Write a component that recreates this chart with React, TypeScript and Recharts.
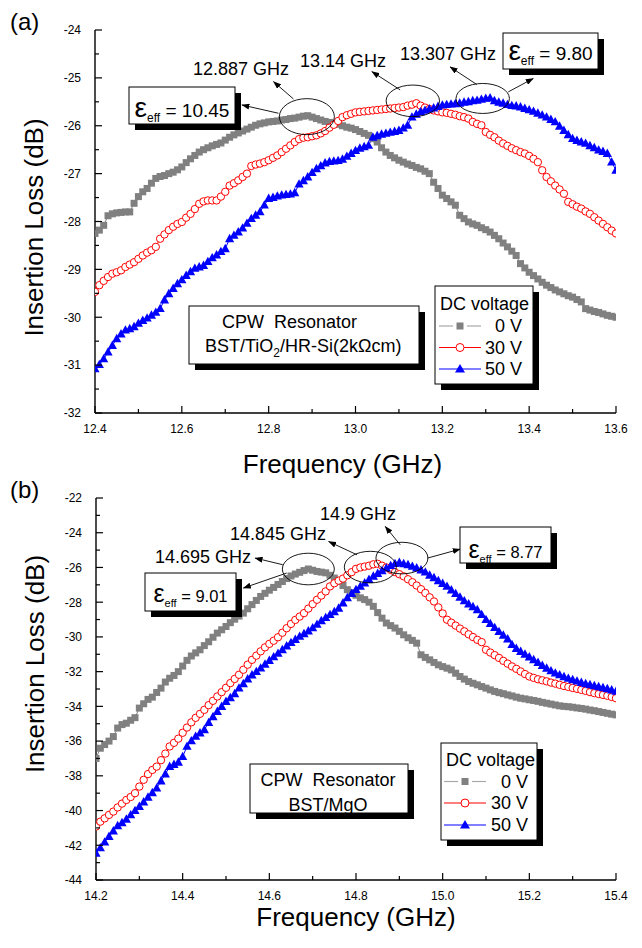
import React from 'react';
import { LineChart, Line, XAxis, YAxis, ReferenceDot } from 'recharts';

const FONT = '"Liberation Sans", Arial, Helvetica, sans-serif';
const GRAY = '#808080';
const RED = '#ff0000';
const BLUE = '#0000ff';

// ---- panel (a): BST/TiO2/HR-Si(2kOhm cm) ----
const freqA = [
  12.40, 12.41, 12.42, 12.43, 12.44, 12.45, 12.46, 12.47, 12.48, 12.49,
  12.50, 12.51, 12.52, 12.53, 12.54, 12.55, 12.56, 12.57, 12.58, 12.59,
  12.60, 12.61, 12.62, 12.63, 12.64, 12.65, 12.66, 12.67, 12.68, 12.69,
  12.70, 12.71, 12.72, 12.73, 12.74, 12.75, 12.76, 12.77, 12.78, 12.79,
  12.80, 12.81, 12.82, 12.83, 12.84, 12.85, 12.86, 12.87, 12.88, 12.89,
  12.90, 12.91, 12.92, 12.93, 12.94, 12.95, 12.96, 12.97, 12.98, 12.99,
  13.00, 13.01, 13.02, 13.03, 13.04, 13.05, 13.06, 13.07, 13.08, 13.09,
  13.10, 13.11, 13.12, 13.13, 13.14, 13.15, 13.16, 13.17, 13.18, 13.19,
  13.20, 13.21, 13.22, 13.23, 13.24, 13.25, 13.26, 13.27, 13.28, 13.29,
  13.30, 13.31, 13.32, 13.33, 13.34, 13.35, 13.36, 13.37, 13.38, 13.39,
  13.40, 13.41, 13.42, 13.43, 13.44, 13.45, 13.46, 13.47, 13.48, 13.49,
  13.50, 13.51, 13.52, 13.53, 13.54, 13.55, 13.56, 13.57, 13.58, 13.59,
  13.60,
];
const lossA0 = [
  -28.25, -28.18, -28.08, -27.88, -27.84, -27.82, -27.81, -27.80, -27.80, -27.62,
  -27.48, -27.38, -27.31, -27.20, -27.10, -27.06, -27.04, -27.00, -26.97, -26.92,
  -26.86, -26.77, -26.69, -26.62, -26.55, -26.50, -26.46, -26.42, -26.39, -26.36,
  -26.30, -26.24, -26.19, -26.15, -26.11, -26.07, -26.03, -25.99, -25.96, -25.94,
  -25.92, -25.91, -25.90, -25.88, -25.87, -25.85, -25.84, -25.82, -25.80, -25.79,
  -25.82, -25.85, -25.88, -25.91, -25.93, -25.95, -25.97, -26.00, -26.03, -26.05,
  -26.08, -26.12, -26.16, -26.20, -26.27, -26.34, -26.46, -26.55, -26.62, -26.67,
  -26.72, -26.76, -26.80, -26.83, -26.87, -26.90, -26.95, -27.00, -27.18, -27.31,
  -27.45, -27.52, -27.59, -27.66, -27.87, -27.94, -28.01, -28.05, -28.08, -28.13,
  -28.17, -28.22, -28.29, -28.36, -28.45, -28.53, -28.62, -28.71, -28.88, -28.97,
  -29.06, -29.13, -29.20, -29.27, -29.33, -29.38, -29.43, -29.47, -29.51, -29.55,
  -29.58, -29.63, -29.68, -29.82, -29.85, -29.88, -29.90, -29.93, -29.96, -29.98,
  -30.00,
];
const lossA30 = [
  -29.47, -29.33, -29.24, -29.16, -29.09, -29.06, -29.02, -28.95, -28.90, -28.85,
  -28.78, -28.71, -28.65, -28.60, -28.53, -28.36, -28.27, -28.18, -28.11, -28.05,
  -28.01, -27.92, -27.84, -27.74, -27.63, -27.58, -27.56, -27.56, -27.56, -27.48,
  -27.38, -27.25, -27.20, -27.14, -27.07, -27.00, -26.84, -26.81, -26.79, -26.76,
  -26.72, -26.67, -26.62, -26.55, -26.48, -26.41, -26.34, -26.28, -26.25, -26.24,
  -26.22, -26.20, -26.16, -26.11, -26.04, -25.98, -25.90, -25.82, -25.78, -25.75,
  -25.72, -25.71, -25.70, -25.69, -25.68, -25.67, -25.66, -25.65, -25.64, -25.63,
  -25.62, -25.61, -25.58, -25.56, -25.53, -25.58, -25.62, -25.65, -25.68, -25.70,
  -25.72, -25.73, -25.75, -25.77, -25.80, -25.82, -25.85, -25.92, -25.96, -25.99,
  -26.13, -26.19, -26.24, -26.31, -26.37, -26.42, -26.47, -26.51, -26.55, -26.58,
  -26.63, -26.69, -26.76, -26.93, -27.07, -27.16, -27.25, -27.33, -27.42, -27.59,
  -27.64, -27.69, -27.73, -27.79, -27.84, -27.91, -27.98, -28.05, -28.12, -28.19,
  -28.25,
];
const lossA50 = [
  -31.08, -30.99, -30.87, -30.73, -30.59, -30.45, -30.35, -30.27, -30.24, -30.20,
  -30.13, -30.07, -30.02, -29.96, -29.90, -29.82, -29.64, -29.51, -29.40, -29.30,
  -29.22, -29.13, -29.05, -28.98, -28.95, -28.92, -28.84, -28.76, -28.70, -28.63,
  -28.57, -28.36, -28.29, -28.22, -28.14, -28.04, -27.94, -27.87, -27.80, -27.66,
  -27.52, -27.50, -27.47, -27.45, -27.44, -27.43, -27.40, -27.22, -27.15, -27.07,
  -26.98, -26.90, -26.84, -26.78, -26.75, -26.74, -26.73, -26.70, -26.64, -26.58,
  -26.52, -26.47, -26.44, -26.41, -26.24, -26.21, -26.18, -26.16, -26.14, -26.12,
  -26.10, -26.05, -25.99, -25.82, -25.76, -25.71, -25.68, -25.65, -25.63, -25.60,
  -25.57, -25.56, -25.55, -25.54, -25.53, -25.51, -25.50, -25.48, -25.47, -25.45,
  -25.43, -25.42, -25.48, -25.51, -25.53, -25.56, -25.58, -25.59, -25.61, -25.64,
  -25.67, -25.70, -25.74, -25.78, -25.82, -25.87, -25.92, -26.01, -26.10, -26.19,
  -26.27, -26.31, -26.34, -26.37, -26.42, -26.46, -26.51, -26.54, -26.58, -26.76,
  -26.93,
];

// ---- panel (b): BST/MgO ----
const freqB = [
  14.20, 14.21, 14.22, 14.23, 14.24, 14.25, 14.26, 14.27, 14.28, 14.29,
  14.30, 14.31, 14.32, 14.33, 14.34, 14.35, 14.36, 14.37, 14.38, 14.39,
  14.40, 14.41, 14.42, 14.43, 14.44, 14.45, 14.46, 14.47, 14.48, 14.49,
  14.50, 14.51, 14.52, 14.53, 14.54, 14.55, 14.56, 14.57, 14.58, 14.59,
  14.60, 14.61, 14.62, 14.63, 14.64, 14.65, 14.66, 14.67, 14.68, 14.69,
  14.70, 14.71, 14.72, 14.73, 14.74, 14.75, 14.76, 14.77, 14.78, 14.79,
  14.80, 14.81, 14.82, 14.83, 14.84, 14.85, 14.86, 14.87, 14.88, 14.89,
  14.90, 14.91, 14.92, 14.93, 14.94, 14.95, 14.96, 14.97, 14.98, 14.99,
  15.00, 15.01, 15.02, 15.03, 15.04, 15.05, 15.06, 15.07, 15.08, 15.09,
  15.10, 15.11, 15.12, 15.13, 15.14, 15.15, 15.16, 15.17, 15.18, 15.19,
  15.20, 15.21, 15.22, 15.23, 15.24, 15.25, 15.26, 15.27, 15.28, 15.29,
  15.30, 15.31, 15.32, 15.33, 15.34, 15.35, 15.36, 15.37, 15.38, 15.39,
  15.40,
];
const lossB0 = [
  -37.00, -36.41, -36.20, -36.00, -35.74, -35.25, -35.05, -34.97, -34.80, -34.65,
  -34.10, -33.85, -33.60, -33.47, -33.20, -32.95, -32.60, -32.38, -32.22, -32.00,
  -31.68, -31.35, -31.10, -30.92, -30.74, -30.50, -30.28, -30.02, -29.78, -29.59,
  -29.40, -29.18, -28.98, -28.80, -28.63, -28.38, -28.14, -27.90, -27.67, -27.49,
  -27.31, -27.15, -26.98, -26.81, -26.64, -26.49, -26.38, -26.28, -26.18, -26.09,
  -26.16, -26.23, -26.27, -26.31, -26.45, -26.61, -26.80, -27.04, -27.28, -27.45,
  -27.60, -27.75, -27.85, -28.00, -28.24, -28.60, -28.92, -29.20, -29.35, -29.49,
  -29.68, -29.88, -30.05, -30.20, -30.36, -31.03, -31.18, -31.32, -31.47, -31.61,
  -31.71, -31.80, -31.90, -32.09, -32.28, -32.43, -32.57, -32.67, -32.76, -32.86,
  -32.95, -33.05, -33.14, -33.21, -33.27, -33.34, -33.40, -33.47, -33.53, -33.57,
  -33.62, -33.66, -33.71, -33.77, -33.82, -33.87, -33.92, -33.97, -34.00, -34.02,
  -34.05, -34.09, -34.12, -34.16, -34.21, -34.25, -34.30, -34.35, -34.40, -34.45,
  -34.49,
];
const lossB30 = [
  -40.92, -40.64, -40.45, -40.25, -40.06, -39.82, -39.60, -39.39, -39.22, -39.00,
  -38.62, -38.23, -37.90, -37.66, -37.47, -37.10, -36.72, -36.31, -36.10, -35.86,
  -35.52, -35.22, -34.92, -34.66, -34.43, -34.20, -33.93, -33.68, -33.43, -33.18,
  -32.93, -32.66, -32.42, -32.18, -31.89, -31.60, -31.32, -31.08, -30.83, -30.60,
  -30.40, -30.22, -30.02, -29.76, -29.50, -29.25, -29.02, -28.83, -28.63, -28.37,
  -28.11, -27.86, -27.62, -27.38, -27.09, -26.91, -26.76, -26.64, -26.45, -26.27,
  -26.08, -26.00, -25.95, -25.90, -25.82, -25.79, -25.90, -26.00, -26.14, -26.27,
  -26.39, -26.51, -26.68, -26.85, -27.04, -27.25, -27.47, -27.72, -27.96, -28.30,
  -28.65, -29.01, -29.18, -29.35, -29.52, -29.68, -29.85, -30.01, -30.17, -30.30,
  -30.74, -30.90, -31.05, -31.21, -31.38, -31.54, -31.70, -31.84, -31.99, -32.14,
  -32.28, -32.36, -32.44, -32.50, -32.56, -32.63, -32.69, -32.76, -32.83, -32.88,
  -32.94, -32.99, -33.05, -33.11, -33.18, -33.24, -33.29, -33.34, -33.39, -33.46,
  -33.53,
];
const lossB50 = [
  -42.46, -42.15, -41.82, -41.50, -41.18, -40.88, -40.71, -40.50, -40.25, -40.01,
  -39.77, -39.51, -39.24, -38.98, -38.71, -38.30, -37.90, -37.47, -37.35, -37.22,
  -36.90, -36.31, -35.99, -35.73, -35.54, -35.35, -34.94, -34.60, -34.30, -34.01,
  -33.72, -33.51, -33.28, -32.95, -32.70, -32.43, -32.20, -32.00, -31.80, -31.58,
  -31.36, -31.15, -30.95, -30.74, -30.53, -30.33, -30.15, -29.97, -29.82, -29.66,
  -29.48, -29.28, -29.07, -28.89, -28.72, -28.55, -28.35, -28.05, -27.75, -27.50,
  -27.28, -27.09, -26.90, -26.70, -26.51, -26.35, -26.19, -26.04, -25.90, -25.78,
  -25.72, -25.79, -25.85, -25.94, -26.03, -26.15, -26.27, -26.45, -26.60, -26.77,
  -26.93, -27.09, -27.30, -27.51, -27.72, -27.93, -28.11, -28.27, -28.44, -28.72,
  -29.01, -29.24, -29.47, -29.70, -29.91, -30.12, -30.45, -30.67, -30.84, -31.00,
  -31.16, -31.32, -31.48, -31.65, -31.81, -31.96, -32.09, -32.19, -32.30, -32.39,
  -32.47, -32.55, -32.63, -32.70, -32.76, -32.82, -32.87, -32.93, -32.99, -33.06,
  -33.14,
];

const voltages = ['0 V', '30 V', '50 V'];

// resonance peaks marked with ellipses
const peakFreqA = [12.888, 13.132, 13.293];
const peakLossA = [-25.81, -25.48, -25.43];
const peakFreqB = [14.69, 14.833, 14.906];
const peakLossB = [-26.09, -25.98, -25.46];

// ticks
const xTicksA = [12.4, 12.5, 12.6, 12.7, 12.8, 12.9, 13.0, 13.1, 13.2, 13.3, 13.4, 13.5, 13.6];
const xMajorA = [12.4, 12.6, 12.8, 13.0, 13.2, 13.4, 13.6];
const yTicksA = [-32, -31.5, -31, -30.5, -30, -29.5, -29, -28.5, -28, -27.5, -27, -26.5, -26, -25.5, -25, -24.5, -24];
const yMajorA = [-32, -31, -30, -29, -28, -27, -26, -25, -24];
const rightTicksA = [-31.2, -30.4, -29.6, -28.8, -28.0, -27.2, -26.4, -25.6, -24.8];

const xTicksB = [14.2, 14.3, 14.4, 14.5, 14.6, 14.7, 14.8, 14.9, 15.0, 15.1, 15.2, 15.3, 15.4];
const xMajorB = [14.2, 14.4, 14.6, 14.8, 15.0, 15.2, 15.4];
const yTicksB = [-44, -43, -42, -41, -40, -39, -38, -37, -36, -35, -34, -33, -32, -31, -30, -29, -28, -27, -26, -25, -24, -23, -22];
const yMajorB = [-44, -42, -40, -38, -36, -34, -32, -30, -28, -26, -24, -22];
const rightTicksB = [-41.8, -39.6, -37.4, -35.2, -33.0, -30.8, -28.6, -26.4, -24.2];

const tableA = freqA.map((f, i) => ({ f, v0: lossA0[i], v30: lossA30[i], v50: lossA50[i] }));
const tableB = freqB.map((f, i) => ({ f, v0: lossB0[i], v30: lossB30[i], v50: lossB50[i] }));

// ellipse size and arrows (px, relative to ellipse centre)
const ringsA = [
  { rx: 27.5, ry: 18, arrows: [[-28.4, -3.4, -65, -11.7], [-13.4, -17.7, -33.4, -35]] },
  { rx: 26.7, ry: 15.8, arrows: [[-12.7, -11, -41, -29.3]] },
  { rx: 26.7, ry: 15, arrows: [[-6, -14, -32.7, -31.6], [25.6, -6.6, 50.6, -20]] },
];
const ringsB = [
  { rx: 26, ry: 15.8, arrows: [[-25.6, -4.3, -53.3, -11], [-21.6, 4, -65, 19]] },
  { rx: 26, ry: 15.8, arrows: [[-13.3, -12.3, -41.7, -25.6]] },
  { rx: 26, ry: 15.8, arrows: [[-1.7, -13.3, -16.7, -31.6], [25.6, 0, 58.3, -9]] },
];

const near = (v: number, list: number[]) => list.some((m) => Math.abs(m - v) < 1e-6);

const bottomTick = (majors: number[]) => (p: any) => {
  const v = p.payload.value;
  const major = near(v, majors);
  return (
    <g>
      <line x1={p.x} x2={p.x} y1={p.y} y2={p.y - (major ? 7 : 4)} stroke="#000" strokeWidth={1.2} />
      {major && (
        <text x={p.x} y={p.y + 19.5} textAnchor="middle" fontSize={12} fontFamily={FONT} fill="#000">
          {v.toFixed(1)}
        </text>
      )}
    </g>
  );
};

const leftTick = (majors: number[]) => (p: any) => {
  const v = p.payload.value;
  const major = near(v, majors);
  return (
    <g>
      <line x1={p.x} x2={p.x + (major ? 7 : 4)} y1={p.y} y2={p.y} stroke="#000" strokeWidth={1.2} />
      {major && (
        <text x={p.x - 14} y={p.y} dy="0.36em" textAnchor="end" fontSize={12} fontFamily={FONT} fill="#000">
          {String(v)}
        </text>
      )}
    </g>
  );
};

const topTick = (p: any) => (
  <line x1={p.x} x2={p.x} y1={p.y} y2={p.y + 4} stroke="#000" strokeWidth={1.2} />
);
const rightTick = (p: any) => (
  <line x1={p.x} x2={p.x - 4} y1={p.y} y2={p.y} stroke="#000" strokeWidth={1.2} />
);

const squareDot = (p: any) =>
  p.cx == null ? <g key={`s${p.index}`} /> : (
    <rect key={`s${p.index}`} x={p.cx - 3.5} y={p.cy - 3.5} width={7} height={7} fill={GRAY} />
  );
const circleDot = (p: any) =>
  p.cx == null ? <g key={`c${p.index}`} /> : (
    <circle key={`c${p.index}`} cx={p.cx} cy={p.cy} r={3.7} fill="#fff" stroke={RED} strokeWidth={1} />
  );
const triangleDot = (p: any) =>
  p.cx == null ? <g key={`t${p.index}`} /> : (
    <path key={`t${p.index}`} d={`M${p.cx},${p.cy - 5} L${p.cx + 4.6},${p.cy + 3.4} L${p.cx - 4.6},${p.cy + 3.4} Z`} fill={BLUE} />
  );

const ringShape = (ring: { rx: number; ry: number; arrows: number[][] }, marker: string) => (p: any) => (
  <g>
    <ellipse cx={p.cx} cy={p.cy} rx={ring.rx} ry={ring.ry} fill="none" stroke="#000" strokeWidth={0.9} />
    {ring.arrows.map(([x1, y1, x2, y2], i) => (
      <line
        key={i}
        x1={p.cx + x1}
        y1={p.cy + y1}
        x2={p.cx + x2}
        y2={p.cy + y2}
        stroke="#000"
        strokeWidth={0.9}
        markerEnd={`url(#${marker})`}
      />
    ))}
  </g>
);

const frame = { stroke: '#000', strokeWidth: 1.4 };

interface PanelProps {
  data: any[];
  xDomain: [number, number];
  yDomain: [number, number];
  xTicks: number[];
  xMajor: number[];
  yTicks: number[];
  yMajor: number[];
  rightTicks: number[];
  peakFreq: number[];
  peakLoss: number[];
  rings: { rx: number; ry: number; arrows: number[][] }[];
  marker: string;
  height: number;
  margin: { top: number; right: number; bottom: number; left: number };
  xTitleDx: number;
  xTitleDy: number;
  yTitleDy: number;
}

const Panel = (props: PanelProps) => {
  const { data, xDomain, yDomain, xTicks, xMajor, yTicks, yMajor, rightTicks, peakFreq, peakLoss, rings, marker } = props;
  return (
    <LineChart width={642} height={props.height} data={data} margin={props.margin}>
      <defs>
        <marker id={marker} markerWidth={8} markerHeight={6} refX={7.5} refY={3} orient="auto" markerUnits="userSpaceOnUse">
          <path d="M0,0 L8,3 L0,6 Z" fill="#000" />
        </marker>
      </defs>
      <XAxis
        dataKey="f"
        type="number"
        domain={xDomain}
        ticks={xTicks}
        interval={0}
        tickSize={0}
        tickMargin={0}
        tickLine={false}
        tick={bottomTick(xMajor)}
        axisLine={frame}
        height={50}
        allowDataOverflow
        label={{
          content: (l: any) => (
            <text
              x={l.viewBox.x + l.viewBox.width / 2 + props.xTitleDx}
              y={l.viewBox.y + props.xTitleDy}
              textAnchor="middle"
              fontSize={26}
              fontFamily={FONT}
              fill="#000"
            >
              Frequency (GHz)
            </text>
          ),
        }}
      />
      <XAxis
        xAxisId="top"
        orientation="top"
        dataKey="f"
        type="number"
        domain={xDomain}
        ticks={xTicks}
        interval={0}
        tickSize={0}
        tickMargin={0}
        tickLine={false}
        tick={topTick}
        axisLine={frame}
        height={0}
        allowDataOverflow
      />
      <YAxis
        type="number"
        domain={yDomain}
        ticks={yTicks}
        interval={0}
        tickSize={0}
        tickMargin={0}
        tickLine={false}
        tick={leftTick(yMajor)}
        axisLine={frame}
        width={60}
        allowDataOverflow
        label={{
          content: (l: any) => (
            <text
              transform={`translate(${l.viewBox.x + 8},${l.viewBox.y + l.viewBox.height / 2 + props.yTitleDy}) rotate(-90)`}
              textAnchor="middle"
              fontSize={26}
              fontFamily={FONT}
              fill="#000"
            >
              Insertion Loss (dB)
            </text>
          ),
        }}
      />
      <YAxis
        yAxisId="right"
        orientation="right"
        type="number"
        domain={yDomain}
        ticks={rightTicks}
        interval={0}
        tickSize={0}
        tickMargin={0}
        tickLine={false}
        tick={rightTick}
        axisLine={frame}
        width={0}
        allowDataOverflow
      />
      <Line dataKey="v0" name={voltages[0]} stroke={GRAY} strokeWidth={1} dot={squareDot} activeDot={false} isAnimationActive={false} />
      <Line dataKey="v30" name={voltages[1]} stroke={RED} strokeWidth={1} dot={circleDot} activeDot={false} isAnimationActive={false} />
      <Line dataKey="v50" name={voltages[2]} stroke={BLUE} strokeWidth={1} dot={triangleDot} activeDot={false} isAnimationActive={false} />
      {peakFreq.map((f, i) => (
        <ReferenceDot key={i} x={f} y={peakLoss[i]} r={0} ifOverflow="visible" shape={ringShape(rings[i], marker)} />
      ))}
    </LineChart>
  );
};

const ShadowBox = ({ x, y, w, h }: { x: number; y: number; w: number; h: number }) => (
  <g>
    <rect x={x + 6} y={y + 6} width={w} height={h} fill="#000" />
    <rect x={x} y={y} width={w} height={h} fill="#fff" stroke="#000" strokeWidth={1} />
  </g>
);

const Eps = ({ x, y, value, big, sub, num }: { x: number; y: number; value: string; big: number; sub: number; num: number }) => (
  <text x={x} y={y} textAnchor="middle" fontFamily={FONT} fill="#000" style={{ whiteSpace: 'pre' }}>
    <tspan fontSize={big}>ε</tspan>
    <tspan fontSize={sub} dy={5}>eff</tspan>
    <tspan fontSize={num} dy={-5}>{` = ${value}`}</tspan>
  </text>
);

const LegendBlock = ({ x, y, w, h, lineX, textX, rows, titleY }: {
  x: number; y: number; w: number; h: number; lineX: number; textX: number; rows: number[]; titleY: number;
}) => (
  <g fontFamily={FONT} fill="#000">
    <ShadowBox x={x} y={y} w={w} h={h} />
    <text x={x + 5} y={titleY} fontSize={18}>DC voltage</text>
    {voltages.map((label, i) => {
      const cy = rows[i];
      const mx = lineX + 21;
      return (
        <g key={label}>
          {i === 0 ? (
            <g>
              <line x1={lineX} x2={mx - 7} y1={cy} y2={cy} stroke="#a8a8a8" strokeWidth={1.2} />
              <line x1={mx + 7} x2={lineX + 42} y1={cy} y2={cy} stroke="#a8a8a8" strokeWidth={1.2} />
              <rect x={mx - 3.5} y={cy - 3.5} width={7} height={7} fill={GRAY} />
            </g>
          ) : i === 1 ? (
            <g>
              <line x1={lineX} x2={lineX + 42} y1={cy} y2={cy} stroke={RED} strokeWidth={1.2} />
              <circle cx={mx} cy={cy} r={4} fill="#fff" stroke={RED} strokeWidth={1} />
            </g>
          ) : (
            <g>
              <line x1={lineX} x2={lineX + 42} y1={cy} y2={cy} stroke={BLUE} strokeWidth={1.2} />
              <path d={`M${mx},${cy - 5} L${mx + 5},${cy + 3.5} L${mx - 5},${cy + 3.5} Z`} fill={BLUE} />
            </g>
          )}
          <text x={textX} y={cy + 6} textAnchor="end" fontSize={18}>{label}</text>
        </g>
      );
    })}
  </g>
);

const Annotations = () => (
  <svg width={642} height={948} style={{ position: 'absolute', left: 0, top: 0, pointerEvents: 'none' }}>
    <g fontFamily={FONT} fill="#000">
      {/* panel (a) */}
      <text x={10} y={30} fontSize={24}>(a)</text>
      <text x={193} y={75} fontSize={18}>12.887 GHz</text>
      <text x={300} y={66.5} fontSize={18}>13.14 GHz</text>
      <text x={400} y={60} fontSize={18}>13.307 GHz</text>
      <ShadowBox x={129} y={87} w={106} h={37} />
      <Eps x={182} y={117} value="10.45" big={28} sub={12} num={19} />
      <ShadowBox x={503} y={33} w={95} h={36} />
      <Eps x={550.5} y={60} value="9.80" big={28} sub={12} num={19} />
      <ShadowBox x={189} y={306} w={230} h={58} />
      <text x={222} y={328} fontSize={18} style={{ whiteSpace: 'pre' }}>CPW  Resonator</text>
      <text x={205} y={351.5} fontSize={18}>
        BST/TiO<tspan fontSize={12} dy={5}>2</tspan>
        <tspan dy={-5}>/HR-Si(2kΩcm)</tspan>
      </text>
      <LegendBlock x={435} y={286} w={98} h={98} lineX={439} textX={522} rows={[326, 347.5, 369]} titleY={310} />

      {/* panel (b) */}
      <text x={10} y={497.5} fontSize={24}>(b)</text>
      <text x={155} y={563} fontSize={18}>14.695 GHz</text>
      <text x={230} y={540} fontSize={18}>14.845 GHz</text>
      <text x={320} y={520} fontSize={18}>14.9 GHz</text>
      <ShadowBox x={145} y={573} w={91} h={38} />
      <Eps x={190.5} y={601.5} value="9.01" big={25} sub={11} num={16.5} />
      <ShadowBox x={460} y={527} w={91} h={36} />
      <Eps x={505.5} y={558} value="8.77" big={25} sub={11} num={16.5} />
      <ShadowBox x={250} y={764} w={158} h={49} />
      <text x={328} y={786} fontSize={18} textAnchor="middle" style={{ whiteSpace: 'pre' }}>CPW  Resonator</text>
      <text x={328} y={810.5} fontSize={18} textAnchor="middle">BST/MgO</text>
      <LegendBlock x={441} y={743} w={96} h={97} lineX={444} textX={528} rows={[781.5, 803, 825]} titleY={766} />
    </g>
  </svg>
);

export default function App() {
  return (
    <div style={{ position: 'absolute', left: 0, top: 0, width: 642, height: 948, background: '#fff', fontFamily: FONT }}>
      <div style={{ position: 'absolute', left: 0, top: 0 }}>
        <Panel
          data={tableA}
          xDomain={[12.4, 13.6]}
          yDomain={[-32, -24]}
          xTicks={xTicksA}
          xMajor={xMajorA}
          yTicks={yTicksA}
          yMajor={yMajorA}
          rightTicks={rightTicksA}
          peakFreq={peakFreqA}
          peakLoss={peakLossA}
          rings={ringsA}
          marker="arrA"
          height={484}
          margin={{ top: 30, right: 26, bottom: 21, left: 35 }}
          xTitleDx={-13}
          xTitleDy={60}
          yTitleDy={6}
        />
      </div>
      <div style={{ position: 'absolute', left: 0, top: 470 }}>
        <Panel
          data={tableB}
          xDomain={[14.2, 15.4]}
          yDomain={[-44, -22]}
          xTicks={xTicksB}
          xMajor={xMajorB}
          yTicks={yTicksB}
          yMajor={yMajorB}
          rightTicks={rightTicksB}
          peakFreq={peakFreqB}
          peakLoss={peakLossB}
          rings={ringsB}
          marker="arrB"
          height={478}
          margin={{ top: 28, right: 26, bottom: 18, left: 36 }}
          xTitleDx={0}
          xTitleDy={46}
          yTitleDy={-25}
        />
      </div>
      <Annotations />
    </div>
  );
}
